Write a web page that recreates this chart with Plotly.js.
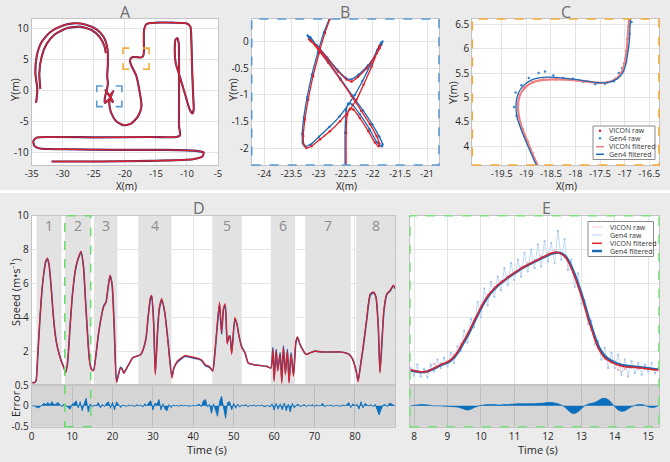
<!DOCTYPE html>
<html><head><meta charset="utf-8">
<script src="https://cdn.plot.ly/plotly-3.0.1.min.js"></script>
<style>html,body{margin:0;padding:0;background:#ebebeb;}#plot{width:670px;height:462px;}</style>
</head><body><div id="plot"></div>
<script>
// ---------- Panel A: full trajectory (m) ----------
const aX = [-33.61,-33.77,-33.39,-32.59,-31.25,-29.38,-27.23,-25.36,-24.02,-23.27,-23.06,null,
 -34.3,-34.09,-34.41,-34.2,-33.45,-32.05,-30.18,-28.3,-26.27,-24.55,-23.38,-22.79,-22.73,-22.84,-22.73,
 -22.88,-23.1,-23.25,-23.22,-22.79,-22.3,-21.93,-21.87,-22.39,-23.15,-22.6,-21.93,-21.96,-22.42,-22.49,
 -22.2,-21.34,-20.16,-18.93,-17.86,-17.32,-17.59,-18.13,-18.55,
 -18.88,-19.08,-19.17,-19.03,-18.65,-18.1,-17.55,-17.18,-17.0,-16.94,-16.91,
 -16.95,-16.9,-16.52,-14.91,-12.24,-10.09,-9.45,-9.29,-9.18,-9.02,-8.92,-9.13,-9.56,-10.36,-11.16,-11.81,-11.97,-11.81,-11.54,-11.33,-11.27,-11.27,-11.27,-11.11,-11.7,
 -15.99,-24.02,-32.05,-34.2,-34.73,-34.57,-33.66,-29.38,-21.34,-13.31,-8.49,-7.31,-7.52,-9.02,-15.99,-24.02,-31.79];
const aY = [0.24,2.8,5.47,7.49,9.04,10.0,10.27,9.73,8.56,7.07,6.0,null,
 -2.0,0.13,2.8,5.47,7.71,9.36,10.37,10.8,10.59,9.84,8.56,6.64,4.4,2.27,1.2,
 0.16,-0.65,-1.46,-1.99,-1.68,-1.09,-0.22,-0.12,-0.75,0.02,-0.71,-1.77,-1.89,-1.26,-2.33,
 -3.6,-5.0,-5.6,-5.3,-4.13,-2.53,-0.4,2.27,3.2,
 3.85,4.35,4.85,5.2,5.36,5.36,5.3,5.38,5.7,6.2,6.62,
 8.13,9.73,10.69,10.91,10.91,10.8,10.27,8.13,3.87,-0.4,-3.07,-3.71,-3.07,-0.4,2.27,4.4,6.53,8.24,8.4,7.6,3.87,-1.47,-5.73,-7.23,-7.49,
 -7.49,-7.55,-7.49,-7.6,-8.13,-8.93,-9.36,-9.47,-9.57,-9.57,-9.73,-10.0,-10.64,-11.07,-11.33,-11.44,-11.44];

// ---------- Panel B: crossing manoeuvre ----------
const bVx = [-22.79,-22.88,-22.99,-23.10,-23.19,-23.25,-23.28,-23.27,-23.22,-23.13,-22.97,-22.79,-22.60,-22.42,-22.30,-22.17,-22.02,-21.93,-21.88,-21.86,-21.87,-21.96,-22.11,-22.27,-22.39,-22.48,-22.64,-22.82,-23.00,-23.15,-23.17,-23.13,-23.00,-22.82,-22.60,-22.39,-22.21,-22.05,-21.93,-21.88,-21.89,-21.96,-22.08,-22.24,-22.36,-22.42,-22.47,-22.49,-22.49];
const bVy = [0.42,0.16,-0.22,-0.65,-1.09,-1.46,-1.77,-1.93,-1.99,-1.96,-1.83,-1.68,-1.49,-1.27,-1.09,-0.81,-0.47,-0.22,-0.09,-0.06,-0.12,-0.28,-0.50,-0.66,-0.75,-0.71,-0.56,-0.34,-0.12,0.02,0.04,0.00,-0.16,-0.40,-0.71,-1.02,-1.30,-1.55,-1.77,-1.91,-1.96,-1.89,-1.68,-1.43,-1.27,-1.26,-1.37,-1.71,-2.33];
const bGx = [-22.80,-22.90,-23.01,-23.12,-23.21,-23.27,-23.30,-23.29,-23.25,-23.15,-22.99,-22.80,-22.61,-22.45,-22.33,-22.19,-22.03,-21.92,-21.85,-21.82,-21.84,-21.93,-22.09,-22.26,-22.40,-22.50,-22.66,-22.84,-23.03,-23.18,-23.20,-23.15,-23.02,-22.83,-22.60,-22.38,-22.18,-22.01,-21.88,-21.82,-21.83,-21.92,-22.06,-22.24,-22.38,-22.45,-22.49,-22.51,-22.51];
const bGy = [0.42,0.17,-0.20,-0.62,-1.05,-1.42,-1.73,-1.90,-1.96,-1.93,-1.78,-1.60,-1.40,-1.18,-1.00,-0.74,-0.41,-0.16,-0.03,0.0,-0.06,-0.22,-0.45,-0.62,-0.71,-0.68,-0.52,-0.30,-0.07,0.08,0.11,0.08,-0.10,-0.36,-0.69,-1.01,-1.29,-1.55,-1.78,-1.92,-1.96,-1.89,-1.64,-1.36,-1.18,-1.16,-1.30,-1.70,-2.33];

// ---------- Panel C: S-bend ----------
const cVx = [-18.72,-18.88,-18.98,-19.08,-19.15,-19.17,-19.13,-19.03,-18.87,-18.65,-18.4,-18.1,-17.8,-17.55,-17.35,-17.18,-17.07,-17.0,-16.96,-16.94,-16.92,-16.91];
const cVy = [3.5,3.85,4.1,4.35,4.6,4.85,5.05,5.2,5.31,5.36,5.37,5.36,5.33,5.3,5.31,5.38,5.5,5.7,5.95,6.2,6.45,6.62];
const cGx = [-18.75,-18.9,-19.01,-19.11,-19.19,-19.21,-19.17,-19.06,-18.89,-18.66,-18.4,-18.1,-17.8,-17.55,-17.33,-17.15,-17.04,-16.97,-16.93,-16.9,-16.89,-16.88];
const cGy = [3.5,3.84,4.1,4.35,4.6,4.85,5.07,5.24,5.36,5.41,5.41,5.38,5.34,5.3,5.31,5.38,5.5,5.7,5.95,6.2,6.45,6.62];
const cGrawX = [-18.80,-18.92,-19.03,-19.12,-19.20,-19.25,-19.22,-19.10,-18.95,-18.75,-18.62,-18.45,-18.25,-18.05,-17.85,-17.6,-17.4,-17.22,-17.12,-17.05,-16.98,-16.93,-16.9,-16.86];
const cGrawY = [3.65,3.95,4.2,4.45,4.62,4.8,5.1,5.25,5.4,5.5,5.53,5.45,5.4,5.38,5.32,5.27,5.28,5.33,5.5,5.6,5.8,6.05,6.3,6.55];

// ---------- Panel D: speed over whole run ----------
const dT = [0,0.8,1.1,1.5,2.0,2.5,3.0,3.5,3.9,4.3,4.8,5.3,5.8,6.3,6.8,7.3,7.8,8.4,8.9,9.5,10.1,10.8,11.5,12.2,12.8,13.3,13.8,14.3,14.8,15.3,15.9,16.5,17.2,17.8,18.4,18.9,19.4,19.9,20.4,21.0,21.5,22.0,22.4,22.8,23.3,24.0,25.0,26.0,27.0,27.6,28.3,28.8,29.4,29.7,30.2,30.6,31.1,31.6,32.2,32.9,33.7,34.7,35.2,36.0,37.0,38.0,39.0,40.0,41.0,42.0,43.0,44.0,44.8,45.3,45.9,46.5,47.0,47.5,47.9,48.4,48.8,49.1,49.5,50.3,50.8,51.2,52.0,52.8,53.6,54.9,56.5,58.2,59.2,59.7,60.0,60.5,60.9,61.5,61.9,62.3,62.8,63.3,63.7,64.2,64.8,65.4,65.8,66.4,67.3,67.9,68.9,70.1,71.8,73.8,76.3,78.3,79.0,79.6,80.3,80.8,81.3,82.1,82.9,83.8,84.6,85.2,85.8,86.2,86.6,87.2,87.9,88.7,89.5,90];
const dVicon = [0.15,0.15,0.3,1.8,3.8,5.5,6.6,7.3,7.5,7.1,5.8,4.2,3.0,2.3,1.8,1.4,1.1,0.7,1.4,3.5,5.4,6.8,7.5,7.9,7.0,5.0,3.0,1.4,0.9,0.85,1.8,3.0,4.0,4.6,4.9,5.8,6.5,5.9,3.5,0.15,0.6,1.0,0.9,0.7,0.9,1.2,1.6,1.7,1.8,2.1,2.8,4.0,5.2,5.3,3.5,0.6,3.0,4.6,5.1,4.3,2.6,0.4,1.0,1.4,1.6,1.75,1.7,1.65,1.6,1.5,1.2,1.1,0.8,1.8,3.5,4.9,3.1,4.6,4.8,2.4,2.9,2.8,1.8,4.0,3.6,3.0,2.2,1.9,1.3,1.2,1.15,1.1,1.0,2.1,0.2,2.0,0.8,1.8,0.1,2.2,0.6,2.0,0.1,1.8,0.5,2.6,2.85,2.4,2.0,1.8,1.9,2.0,1.95,1.95,1.95,1.85,1.7,1.4,0.8,0.2,1.0,2.4,3.9,5.4,5.5,5.2,3.3,0.7,2.2,4.5,5.4,5.6,5.9,5.7];
const dGen4 = [0.15,0.15,0.28,1.75,3.75,5.45,6.6,7.3,7.45,7.1,5.85,4.25,3.05,2.3,1.85,1.45,1.15,0.75,1.35,3.45,5.35,6.75,7.45,7.85,7.05,5.1,3.1,1.5,0.95,0.85,1.75,2.95,4.0,4.65,4.9,5.75,6.45,5.95,3.6,0.2,0.65,1.05,0.95,0.7,0.9,1.2,1.6,1.7,1.8,2.1,2.75,3.95,5.1,5.25,3.6,0.7,2.9,4.5,5.0,4.35,2.7,0.5,1.0,1.35,1.55,1.7,1.65,1.6,1.55,1.45,1.15,1.05,0.85,1.75,3.4,4.8,3.0,4.5,4.7,2.5,2.8,2.9,1.9,3.9,3.6,3.05,2.25,1.9,1.3,1.2,1.15,1.1,1.0,2.2,0.3,2.1,0.9,1.9,0.2,2.3,0.7,2.1,0.2,1.9,0.6,2.5,2.8,2.4,2.0,1.8,1.9,2.0,1.95,1.95,1.95,1.85,1.7,1.45,0.85,0.25,1.0,2.3,3.8,5.3,5.45,5.2,3.4,0.8,2.1,4.4,5.35,5.55,5.85,5.7];
const dErrT = [0,0.5,1,1.5,2,2.5,3,3.5,4,4.5,5,5.5,6,6.5,7,7.5,8,8.5,9,9.5,10,10.5,11,11.5,12,12.5,13,13.5,14,14.5,15,15.5,16,16.5,17,17.5,18,18.5,19,19.5,20,20.5,21,21.5,22,22.5,23,23.5,24,24.5,25,25.5,26,26.5,27,27.5,28,28.5,29,29.5,30,30.5,31,31.5,32,32.5,33,33.5,34,34.5,35,35.5,36,36.5,37,37.5,38,38.5,39,39.5,40,40.5,41,41.5,42,42.5,43,43.5,44,44.5,45,45.5,46,46.5,47,47.5,48,48.5,49,49.5,50,50.5,51,51.5,52,52.5,53,53.5,54,54.5,55,55.5,56,56.5,57,57.5,58,58.5,59,59.5,60,60.5,61,61.5,62,62.5,63,63.5,64,64.5,65,65.5,66,66.5,67,67.5,68,68.5,69,69.5,70,70.5,71,71.5,72,72.5,73,73.5,74,74.5,75,75.5,76,76.5,77,77.5,78,78.5,79,79.5,80,80.5,81,81.5,82,82.5,83,83.5,84,84.5,85,85.5,86,86.5,87,87.5,88,88.5,89,89.5,90];
const dErr = [0,0,-0.02,-0.05,-0.03,0.02,0.06,0.03,0.08,0.02,
 0.1,0.03,0.04,0.08,0.02,-0.02,0.05,0.0,-0.05,-0.08,
 0.04,0.06,0.12,-0.05,0.1,-0.12,0.06,0.18,-0.15,0.05,
 -0.03,0.02,0.0,0.08,-0.05,0.04,-0.02,0.06,0.1,-0.06,
 0.09,-0.1,0.1,0.03,-0.04,0.02,0.01,-0.01,0.02,0.0,
 0.01,-0.02,0.03,0.0,0.02,-0.03,0.05,0.0,0.08,0.12,
 -0.1,0.06,0.04,0.15,-0.1,0.05,-0.08,-0.12,0.03,-0.04,
 0.02,0.0,0.01,-0.01,0.02,0.0,0.01,0.0,-0.01,0.0,
 0.01,0.0,0.02,0.04,-0.02,0.12,0.15,-0.03,0.04,-0.18,
 0.05,-0.1,-0.25,0.1,0.23,-0.05,-0.3,0.08,0.1,-0.1,
 0.06,-0.06,0.04,-0.03,0.02,0.0,0.03,-0.02,0.01,0.0,
 0.02,-0.01,0.01,0.0,0.02,-0.02,0.0,0.01,-0.03,0.05,
 -0.1,0.06,-0.08,0.05,-0.1,0.07,-0.12,0.04,-0.15,0.06,
 -0.05,0.02,0.04,-0.02,0.01,0.03,-0.02,0.02,0.0,0.03,
 -0.02,0.02,0.0,0.01,0.06,-0.02,0.01,0.0,0.02,-0.01,
 0.0,0.01,0.0,-0.01,0.02,0.0,0.03,0.08,-0.04,0.05,
 0.0,0.04,-0.08,0.1,-0.05,0.06,0.02,0.0,0.03,-0.02,
 0.04,-0.12,-0.22,-0.08,0.02,0.03,-0.02,0.06,0.05,0.02,
 0.0];
const segStart = [1.2,8.2,15.4,26.4,44.7,59.2,67.7,80.3];
const segEnd   = [7.4,14.6,21.2,34.6,52.0,65.2,79.0,90];
const segLabel = ['1','2','3','4','5','6','7','8'];

// ---------- Panel E: zoom on segment 2 ----------
const eT = [7.9,8.0,8.1,8.2,8.3,8.4,8.5,8.6,8.7,8.8,8.9,9.0,9.1,9.2,9.3,9.4,9.5,9.6,9.7,9.8,9.9,10.0,10.1,10.2,10.3,10.4,10.5,10.6,10.7,10.8,10.9,11.0,11.1,11.2,11.3,11.4,11.5,11.6,11.7,11.8,11.9,12.0,12.1,12.2,12.3,12.4,12.5,12.6,12.7,12.8,12.9,13.0,13.1,13.2,13.3,13.4,13.5,13.6,13.7,13.8,13.9,14.0,14.1,14.2,14.3,14.4,14.5,14.6,14.7,14.8,14.9,15.0,15.1,15.2,15.3];
const eVicon = [0.88,0.85,0.8,0.78,0.78,0.8,0.9,1.0,1.1,1.2,1.28,1.35,1.5,1.7,1.95,2.3,2.65,3.0,3.4,3.8,4.2,4.6,4.95,5.25,5.5,5.7,5.9,6.05,6.2,6.35,6.5,6.62,6.75,6.88,7.0,7.1,7.2,7.3,7.4,7.5,7.6,7.7,7.78,7.83,7.83,7.75,7.6,7.3,6.9,6.4,5.85,5.25,4.6,3.9,3.3,2.7,2.2,1.85,1.6,1.45,1.35,1.25,1.18,1.12,1.08,1.06,1.05,1.04,1.02,1.0,0.98,0.95,0.92,0.9,0.9];
const eGen4 = [0.85,0.82,0.78,0.76,0.77,0.8,0.88,0.97,1.07,1.17,1.25,1.32,1.45,1.63,1.88,2.2,2.55,2.9,3.3,3.72,4.12,4.52,4.88,5.18,5.45,5.66,5.86,6.02,6.18,6.33,6.47,6.6,6.73,6.86,6.98,7.08,7.18,7.28,7.38,7.48,7.57,7.66,7.74,7.8,7.82,7.77,7.65,7.4,7.02,6.55,6.0,5.42,4.78,4.1,3.48,2.88,2.35,1.98,1.72,1.55,1.43,1.33,1.25,1.19,1.15,1.12,1.1,1.08,1.06,1.04,1.02,0.99,0.96,0.93,0.92];
const eViconRaw = [0.95,0.75,0.85,0.7,0.85,0.75,1.1,1.25,1.05,1.3,1.2,1.45,1.45,1.8,1.9,2.45,2.6,3.1,3.35,3.9,4.15,4.7,4.9,5.35,5.45,5.8,5.85,6.15,6.15,6.45,6.45,6.7,6.7,6.95,6.95,7.2,7.15,7.4,7.35,7.6,7.55,7.8,7.75,7.95,7.8,7.8,7.55,7.35,6.85,6.45,5.8,5.3,4.55,3.95,3.25,2.75,2.15,1.9,1.55,1.5,1.3,1.4,0.9,0.75,0.95,1.05,1.0,1.1,0.95,1.05,0.95,1.0,0.9,0.95,0.85];
const eGen4Raw = [1.0,0.55,1.2,0.5,0.95,0.45,1.2,0.8,1.5,1.0,1.6,1.1,1.9,1.3,2.3,2.0,3.2,2.5,3.9,3.4,4.9,4.0,5.7,4.7,6.1,5.2,6.4,5.6,6.9,5.9,7.2,6.2,7.4,6.4,7.8,6.7,8.0,6.9,8.3,7.0,8.5,7.3,8.4,7.2,9.1,7.4,8.6,6.8,7.4,5.8,6.6,4.8,5.0,3.6,3.8,2.4,2.6,1.5,2.2,1.0,1.9,1.0,1.8,0.6,1.5,0.5,1.4,0.7,1.3,0.6,1.2,0.8,1.3,0.7,1.0];
const eErr = [0.0,0.01,0.02,0.03,0.03,0.02,0.01,0.0,0.0,0.0,-0.01,-0.01,-0.02,-0.02,-0.03,-0.05,-0.08,-0.1,-0.08,-0.04,-0.01,0.01,0.02,0.03,0.03,0.03,0.02,0.02,0.03,0.03,0.04,0.04,0.05,0.05,0.05,0.05,0.05,0.05,0.06,0.06,0.07,0.08,0.08,0.07,0.05,0.02,-0.03,-0.1,-0.17,-0.18,-0.14,-0.07,0.0,0.04,0.06,0.08,0.12,0.17,0.18,0.15,0.07,-0.02,-0.1,-0.13,-0.12,-0.07,-0.02,0.01,0.03,0.03,0.01,-0.02,-0.04,-0.03,0.0];

const legendLabels = ['VICON raw','Gen4 raw','VICON filtered','Gen4 filtered'];

// ---------- styling / layout helpers ----------
const W = 670, H = 462;
const PX = x => x / W, PY = y => 1 - y / H;
const FONT = 'Open Sans, DejaVu Sans, sans-serif';
const TICKF = {family: FONT, size: 10, color: '#262626'};
const RED = '#e0202a', BLUE = '#1c6ab5', ERRB = '#0a6ebd';

function ax(domain, range, tickvals, extra) {
  return Object.assign({domain: domain, range: range, autorange: false, tickmode: 'array',
    tickvals: tickvals, ticktext: tickvals.map(v => String(v)),
    showgrid: true, gridcolor: '#e4e4e4', gridwidth: 1, zeroline: false,
    showline: true, linecolor: '#c4c4c4', linewidth: 1, mirror: true, ticks: '',
    tickfont: TICKF, fixedrange: true}, extra || {});
}
const topY = [PY(165), PY(19)];
const spdY = [PY(385), PY(215.7)];
const errY = [PY(426.7), PY(385)];
const dX = [PX(31.7), PX(395.3)];
const eX = [PX(410), PX(659)];

const rangeA = {x: [-35, -5], y: [-12.0, 11.5]};
const rangeB = {x: [-24.23, -20.78], y: [-2.31, 0.42]};
const rangeC = {x: [-20.1, -16.3], y: [3.61, 6.61]};
const topX = {tickfont: {family: FONT, size: 9.5, color: '#262626'}};

const layout = {
  width: W, height: H, margin: {l: 0, r: 0, t: 0, b: 0, pad: 0},
  paper_bgcolor: '#ebebeb', plot_bgcolor: '#ffffff', showlegend: false,
  font: {family: FONT, size: 10, color: '#262626'},
  xaxis: ax([PX(31.7), PX(218)], rangeA.x, [-35,-30,-25,-20,-15,-10,-5], Object.assign({anchor: 'y'}, topX)),
  yaxis: ax(topY, rangeA.y, [-10,-5,0,5,10], {anchor: 'x'}),
  xaxis2: ax([PX(251.7), PX(439)], rangeB.x, [-24,-23.5,-23,-22.5,-22,-21.5,-21], Object.assign({anchor: 'y2'}, topX)),
  yaxis2: ax(topY, rangeB.y, [-2,-1.5,-1,-0.5,0], {anchor: 'x2'}),
  xaxis3: ax([PX(472.3), PX(659)], rangeC.x, [-19.5,-19,-18.5,-18,-17.5,-17,-16.5], Object.assign({anchor: 'y3'}, topX)),
  yaxis3: ax(topY, rangeC.y, [4,4.5,5,5.5,6,6.5], {anchor: 'x3'}),
  xaxis4: ax(dX, [0, 90], [10,20,30,40,50,60,70,80], {anchor: 'y4', showticklabels: false}),
  yaxis4: ax(spdY, [0, 10], [2,4,6,8,10], {anchor: 'x4'}),
  xaxis5: ax(dX, [0, 90], [0,10,20,30,40,50,60,70,80], {anchor: 'y5', gridcolor: '#bdbdbd'}),
  yaxis5: ax(errY, [-0.5, 0.5], [-0.5,0,0.5], {anchor: 'x5', showgrid: false}),
  xaxis6: ax(eX, [7.88, 15.32], [8,9,10,11,12,13,14,15], {anchor: 'y6', showticklabels: false}),
  yaxis6: ax(spdY, [0, 10], [2,4,6,8], {anchor: 'x6', showticklabels: false}),
  xaxis7: ax(eX, [7.88, 15.32], [8,9,10,11,12,13,14,15], {anchor: 'y7', gridcolor: '#bdbdbd'}),
  yaxis7: ax(errY, [-0.5, 0.5], [-0.5,0,0.5], {anchor: 'x7', showgrid: false, showticklabels: false}),
  shapes: [], annotations: []
};

// white separator between the rows
layout.shapes.push({type: 'rect', xref: 'paper', yref: 'paper', x0: 0, x1: 1, y0: PY(193), y1: PY(190), fillcolor: '#ffffff', line: {width: 0}, layer: 'below'});

// bracket markers in A
function brackets(r, pad, len, color) {
  const x0 = r.x[0] - pad, x1 = r.x[1] + pad, y0 = r.y[0] - pad, y1 = r.y[1] + pad;
  const p = [
    `M${x0},${y1 - len} L${x0},${y1} L${x0 + len},${y1}`,
    `M${x1 - len},${y1} L${x1},${y1} L${x1},${y1 - len}`,
    `M${x0},${y0 + len} L${x0},${y0} L${x0 + len},${y0}`,
    `M${x1 - len},${y0} L${x1},${y0} L${x1},${y0 + len}`];
  p.forEach(d => layout.shapes.push({type: 'path', xref: 'x', yref: 'y', path: d, line: {color: color, width: 1.6}}));
}
brackets(rangeB, 0.3, 1.0, '#5b9bd5');
brackets(rangeC, 0.2, 1.0, '#f2aa3a');

// dashed frames
layout.shapes.push({type: 'rect', xref: 'x2 domain', yref: 'y2 domain', x0: 0, x1: 1, y0: 0, y1: 1, line: {color: '#5b9bd5', width: 1.6, dash: 'dash'}});
layout.shapes.push({type: 'rect', xref: 'x3 domain', yref: 'y3 domain', x0: 0, x1: 1, y0: 0, y1: 1, line: {color: '#f2aa3a', width: 1.6, dash: 'dash'}});
layout.shapes.push({type: 'rect', xref: 'x6 domain', yref: 'paper', x0: 0, x1: 1, y0: errY[0], y1: spdY[1], line: {color: '#7ee07e', width: 1.6, dash: 'dash'}});
// error panel backgrounds
['5', '7'].forEach(n => layout.shapes.push({type: 'rect', xref: 'x' + n + ' domain', yref: 'y' + n + ' domain', x0: 0, x1: 1, y0: 0, y1: 1, fillcolor: '#d5d5d5', line: {width: 0}, layer: 'below'}));
// manoeuvre bands and labels in D
segStart.forEach((s, i) => {
  layout.shapes.push({type: 'rect', xref: 'x4', yref: 'y4 domain', x0: s, x1: segEnd[i], y0: 0, y1: 1, fillcolor: '#e2e2e2', line: {width: 0}, layer: 'below'});
  layout.annotations.push({xref: 'x4', yref: 'y4', x: (s + segEnd[i]) / 2, y: 9.4, text: segLabel[i], showarrow: false, font: {family: FONT, size: 14, color: '#8c8c8c'}});
});
layout.shapes.push({type: 'rect', xref: 'x4', yref: 'paper', x0: segStart[1], x1: segEnd[1], y0: errY[0], y1: spdY[1], line: {color: '#6fdc6f', width: 1.6, dash: 'dash'}});

// panel letters and axis titles
function txt(x, y, t, size, color, angle) {
  layout.annotations.push({xref: 'paper', yref: 'paper', x: PX(x), y: PY(y), text: t, showarrow: false, borderpad: 0,
    xanchor: 'center', yanchor: 'middle', textangle: angle || 0, font: {family: FONT, size: size, color: color}});
}
txt(125, 12, 'A', 16, '#6e6e6e'); txt(345, 12, 'B', 16, '#6e6e6e'); txt(566, 12, 'C', 16, '#6e6e6e');
txt(199, 208, 'D', 16, '#6e6e6e'); txt(546, 208, 'E', 16, '#6e6e6e');
txt(126.7, 185.5, 'X(m)', 10, '#262626'); txt(346.7, 185.5, 'X(m)', 10, '#262626'); txt(566.7, 185.5, 'X(m)', 10, '#262626');
txt(15, 90, 'Y(m)', 11, '#262626', -90); txt(233, 90, 'Y(m)', 11, '#262626', -90); txt(452, 93, 'Y(m)', 11, '#262626', -90);
txt(15, 292, 'Speed (m•s<sup>-1</sup>)', 11, '#262626', -90);
txt(15, 404, 'Error', 11, '#262626', -90);
txt(207, 449, 'Time (s)', 11, '#262626'); txt(538, 449, 'Time (s)', 11, '#262626');

// hand-built legends
function legend(box, rows, symX0, symX1, textX, items) {
  layout.shapes.push({type: 'rect', xref: 'paper', yref: 'paper', x0: PX(box[0]), x1: PX(box[2]), y0: PY(box[3]), y1: PY(box[1]), fillcolor: '#ffffff', line: {color: '#8a8a8a', width: 1}});
  items.forEach((it, i) => {
    const y = rows[i];
    if (it.kind === 'dot') {
      const cx = (symX0 + symX1) / 2;
      layout.shapes.push({type: 'circle', xref: 'paper', yref: 'paper', x0: PX(cx - 1.2), x1: PX(cx + 1.2), y0: PY(y + 1.2), y1: PY(y - 1.2), fillcolor: it.color, line: {width: 0}});
    } else {
      layout.shapes.push({type: 'line', xref: 'paper', yref: 'paper', x0: PX(symX0), x1: PX(symX1), y0: PY(y), y1: PY(y), line: {color: it.color, width: it.w}});
    }
    layout.annotations.push({xref: 'paper', yref: 'paper', x: PX(textX), y: PY(y), text: legendLabels[i], showarrow: false, xanchor: 'left', yanchor: 'middle', font: {family: FONT, size: 7, color: '#333333'}});
  });
}
legend([593, 126, 655, 159.5], [130.7, 138.3, 146.7, 154.3], 596, 604, 607,
  [{kind: 'dot', color: RED}, {kind: 'dot', color: '#3a8ad6'}, {kind: 'line', color: '#f08080', w: 1.5}, {kind: 'line', color: BLUE, w: 1.5}]);
legend([588, 221.5, 653.5, 256.5], [227, 235, 243.3, 251], 592, 602, 608,
  [{kind: 'line', color: '#f7c4c6', w: 1}, {kind: 'line', color: '#b9d4f2', w: 1}, {kind: 'line', color: RED, w: 1.5}, {kind: 'line', color: BLUE, w: 2.5}]);

// ---------- traces ----------
const sp = {shape: 'spline', smoothing: 0.6};
const traces = [
  // A
  {x: aX, y: aY, xaxis: 'x', yaxis: 'y', mode: 'lines', line: Object.assign({color: '#3a2c78', width: 2.1}, sp), connectgaps: false},
  {x: aX, y: aY, xaxis: 'x', yaxis: 'y', mode: 'lines', line: Object.assign({color: '#d8232b', width: 1.4}, sp), connectgaps: false},
  // B
  {x: bGx, y: bGy, xaxis: 'x2', yaxis: 'y2', mode: 'markers', marker: {color: '#3a8ad6', size: 2.5}},
  {x: bVx, y: bVy, xaxis: 'x2', yaxis: 'y2', mode: 'markers', marker: {color: RED, size: 2.5}},
  {x: bGx, y: bGy, xaxis: 'x2', yaxis: 'y2', mode: 'lines', line: Object.assign({color: BLUE, width: 1.3}, sp)},
  {x: bVx, y: bVy, xaxis: 'x2', yaxis: 'y2', mode: 'lines', line: Object.assign({color: RED, width: 1.3}, sp)},
  // C
  {x: cGrawX, y: cGrawY, xaxis: 'x3', yaxis: 'y3', mode: 'markers', marker: {color: '#3a8ad6', size: 2.5}},
  {x: cVx, y: cVy, xaxis: 'x3', yaxis: 'y3', mode: 'markers', marker: {color: RED, size: 2.5}},
  {x: cVx, y: cVy, xaxis: 'x3', yaxis: 'y3', mode: 'lines', line: Object.assign({color: '#f08080', width: 2.2}, sp)},
  {x: cGx, y: cGy, xaxis: 'x3', yaxis: 'y3', mode: 'lines', line: Object.assign({color: BLUE, width: 1.3}, sp)},
  // D
  {x: dT, y: dGen4, xaxis: 'x4', yaxis: 'y4', mode: 'lines', line: Object.assign({color: '#2d4f9a', width: 1.6}, sp)},
  {x: dT, y: dVicon, xaxis: 'x4', yaxis: 'y4', mode: 'lines', line: Object.assign({color: '#e0202a', width: 1.1}, sp)},
  {x: dErrT, y: dErr, xaxis: 'x5', yaxis: 'y5', mode: 'lines', fill: 'tozeroy', fillcolor: ERRB, line: {color: ERRB, width: 0.8}},
  // E
  {x: eT, y: eViconRaw, xaxis: 'x6', yaxis: 'y6', mode: 'lines+markers', line: {color: '#f7c4c6', width: 1}, marker: {color: '#f4aab0', size: 2}},
  {x: eT, y: eGen4Raw, xaxis: 'x6', yaxis: 'y6', mode: 'lines+markers', line: {color: '#c3daf4', width: 1}, marker: {color: '#9ec3ec', size: 2.2}},
  {x: eT, y: eGen4, xaxis: 'x6', yaxis: 'y6', mode: 'lines', line: Object.assign({color: BLUE, width: 2.4}, sp)},
  {x: eT, y: eVicon, xaxis: 'x6', yaxis: 'y6', mode: 'lines', line: Object.assign({color: RED, width: 1.5}, sp)},
  {x: eT, y: eErr, xaxis: 'x7', yaxis: 'y7', mode: 'lines', fill: 'tozeroy', fillcolor: ERRB, line: Object.assign({color: ERRB, width: 0.8}, sp)}
];

Plotly.newPlot('plot', traces, layout, {staticPlot: true, displayModeBar: false});
</script></body></html>
